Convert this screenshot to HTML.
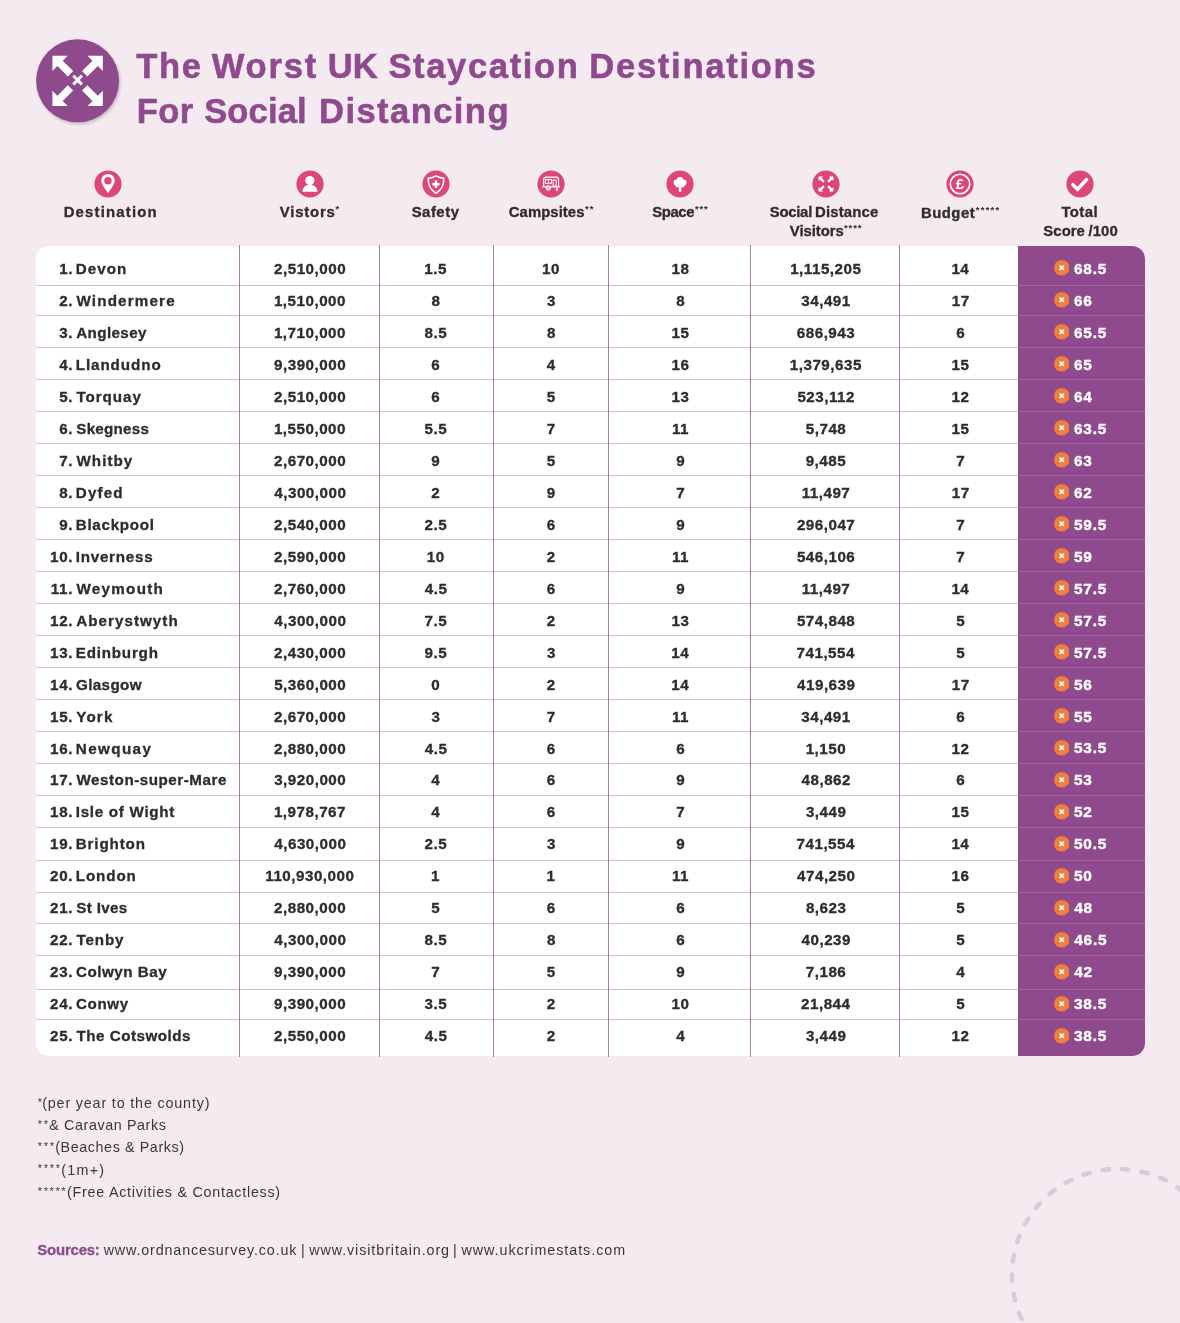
<!DOCTYPE html>
<html lang="en"><head><meta charset="utf-8"><title>The Worst UK Staycation Destinations For Social Distancing</title>
<style>
html,body{margin:0;padding:0}
body{width:1180px;height:1323px;background:#f5eaf0;position:relative;overflow:hidden;font-family:"Liberation Sans",sans-serif;color:#2f2b2e}
.abs{position:absolute}
.t{position:absolute;white-space:pre;line-height:20px;height:20px}
.b{font-weight:bold}
.tbl{position:absolute;left:36px;top:246px;width:1109px;height:810px;background:#fff;border-radius:13px;overflow:hidden}
.purple{position:absolute;left:982px;top:0;width:127px;height:810px;background:#8e4a8c}
.hl{position:absolute;left:0;width:982px;height:1px;background:#d6bfca}
.hlp{position:absolute;left:982px;width:127px;height:1px;background:#a365a1}
.vl{position:absolute;top:245px;width:1px;height:812px;background:#a97e93}
.x{position:absolute;left:1053.6px;width:15.6px;height:15.6px}
.ic{position:absolute;width:28px;height:28px}
</style></head><body>

<svg class="abs" style="left:980px;top:1140px" width="200" height="183" viewBox="980 1140 200 183"><circle cx="1118" cy="1275" r="106" fill="none" stroke="#dccadb" stroke-width="4.6" stroke-dasharray="6.400 13.190" stroke-dashoffset="6.200" stroke-linecap="round"/></svg>
<svg class="abs" style="left:26px;top:30px" width="104" height="104" viewBox="0 0 104 104">
<defs><filter id="sh" x="-20%" y="-20%" width="140%" height="140%"><feGaussianBlur stdDeviation="1.6"/></filter></defs>
<circle cx="52.9" cy="52.85" r="41.5" fill="#a58fa3" opacity=".55" filter="url(#sh)"/>
<circle cx="51.6" cy="50.85" r="41.5" fill="#8e4a8c"/>
<g fill="#fff"><polygon points="26.40,25.65 41.70,25.65 36.70,30.65 47.15,41.10 41.85,46.40 31.40,35.95 26.40,40.95"/><polygon points="76.80,25.65 61.50,25.65 66.50,30.65 56.05,41.10 61.35,46.40 71.80,35.95 76.80,40.95"/><polygon points="26.40,76.05 41.70,76.05 36.70,71.05 47.15,60.60 41.85,55.30 31.40,65.75 26.40,60.75"/><polygon points="76.80,76.05 61.50,76.05 66.50,71.05 56.05,60.60 61.35,55.30 71.80,65.75 76.80,60.75"/></g>
<path d="M47.30 45.75l8.600 8.600M55.90 45.75l-8.600 8.600" stroke="#fff" stroke-width="3" fill="none"/>
</svg>
<svg class="ic" style="left:94.25px;top:170.20px" viewBox="0 0 28 28"><circle cx="14" cy="14" r="13.6" fill="#dc4679"/><path d="M14 3.900a6.700 6.700 0 0 1 6.700 6.700c0 4.200-4.600 9.200-6.700 12.700c-2.100-3.500-6.700-8.500-6.700-12.700a6.700 6.700 0 0 1 6.700-6.700z" fill="#fff"/><circle cx="13.900" cy="10.700" r="3.700" fill="#dc4679"/></svg>
<svg class="ic" style="left:295.60px;top:169.95px" viewBox="0 0 28 28"><circle cx="14" cy="14" r="13.6" fill="#dc4679"/><circle cx="13.900" cy="10.500" r="4.600" fill="#fff"/><path d="M6.300 21.700c.4-4.600 3.300-7 7.600-7s7.200 2.400 7.600 7z" fill="#fff"/></svg>
<svg class="ic" style="left:421.60px;top:169.75px" viewBox="0 0 28 28"><circle cx="14" cy="14" r="13.6" fill="#dc4679"/><path d="M14 5.900c-2.500 1.500-5.200 2.100-7.750 2.200c-.3 6 1.800 11.500 7.750 15.100c5.950-3.600 8.050-9.100 7.750-15.100c-2.550-.1-5.250-.7-7.750-2.200z" fill="none" stroke="#fff" stroke-width="1.600" stroke-linejoin="round"/><path d="M13.900 10.600v7.300M10.300 14.250h7.200" stroke="#fff" stroke-width="2.400"/></svg>
<svg class="ic" style="left:537.00px;top:169.90px" viewBox="0 0 28 28"><circle cx="14" cy="14" r="13.6" fill="#dc4679"/><path d="M6.700 16.300v-6.800a2.400 2.400 0 0 1 2.400-2.400h10.100a2.400 2.400 0 0 1 2.400 2.400v6.800" fill="none" stroke="#fff" stroke-width="1.100"/><rect x="8.400" y="9.500" width="6.100" height="3.800" fill="none" stroke="#fff" stroke-width="1"/><path d="M11.450 9.500v3.800" stroke="#fff" stroke-width=".8"/><rect x="16.100" y="10" width="3.100" height="6" fill="none" stroke="#fff" stroke-width="1"/><path d="M5.200 16.800h17.800" stroke="#fff" stroke-width="1.300"/><circle cx="11.300" cy="17.900" r="2.300" fill="#f3c6d6" stroke="#fff" stroke-width=".9"/><path d="M19.900 17.400v3.600" stroke="#fff" stroke-width="1.700"/></svg>
<svg class="ic" style="left:665.85px;top:169.75px" viewBox="0 0 28 28"><circle cx="14" cy="14" r="13.6" fill="#dc4679"/><g fill="#fff"><circle cx="14.050" cy="10.200" r="3.300"/><circle cx="10.700" cy="12.500" r="3.100"/><circle cx="17.400" cy="12.500" r="3.100"/><circle cx="12" cy="14.700" r="2.600"/><circle cx="16.100" cy="14.700" r="2.600"/><circle cx="14.050" cy="12.600" r="3.500"/><path d="M12.300 16.300h3.500l-.5 1.500v3.900h-2.500v-3.900z"/></g></svg>
<svg class="ic" style="left:811.60px;top:169.80px" viewBox="0 0 28 28"><circle cx="14" cy="14" r="13.6" fill="#dc4679"/><g fill="#fff"><polygon points="6.57,6.57 11.08,6.57 9.60,8.04 12.69,11.12 11.12,12.69 8.04,9.60 6.57,11.08"/><polygon points="21.43,6.57 16.92,6.57 18.40,8.04 15.31,11.12 16.88,12.69 19.96,9.60 21.43,11.08"/><polygon points="6.57,21.43 11.08,21.43 9.60,19.96 12.69,16.88 11.12,15.31 8.04,18.40 6.57,16.92"/><polygon points="21.43,21.43 16.92,21.43 18.40,19.96 15.31,16.88 16.88,15.31 19.96,18.40 21.43,16.92"/></g></svg>
<svg class="ic" style="left:946.35px;top:169.65px" viewBox="0 0 28 28"><circle cx="14" cy="14" r="13.6" fill="#dc4679"/><circle cx="14" cy="14" r="9.700" fill="none" stroke="#fff" stroke-width="1.600"/><text x="14" y="19.300" text-anchor="middle" font-family="Liberation Sans,sans-serif" font-weight="bold" font-size="15" fill="#fff">£</text></svg>
<svg class="ic" style="left:1066.10px;top:169.85px" viewBox="0 0 28 28"><circle cx="14" cy="14" r="13.6" fill="#dc4679"/><path d="M6.900 14.700l4.700 4.500l9-9.700" fill="none" stroke="#fff" stroke-width="3.500" stroke-linecap="round" stroke-linejoin="miter"/></svg>
<div class="tbl"><div class="purple"></div>
<div class="hl" style="top:39px"></div><div class="hlp" style="top:39px"></div>
<div class="hl" style="top:69px"></div><div class="hlp" style="top:69px"></div>
<div class="hl" style="top:101px"></div><div class="hlp" style="top:101px"></div>
<div class="hl" style="top:133px"></div><div class="hlp" style="top:133px"></div>
<div class="hl" style="top:165px"></div><div class="hlp" style="top:165px"></div>
<div class="hl" style="top:197px"></div><div class="hlp" style="top:197px"></div>
<div class="hl" style="top:229px"></div><div class="hlp" style="top:229px"></div>
<div class="hl" style="top:261px"></div><div class="hlp" style="top:261px"></div>
<div class="hl" style="top:293px"></div><div class="hlp" style="top:293px"></div>
<div class="hl" style="top:325px"></div><div class="hlp" style="top:325px"></div>
<div class="hl" style="top:357px"></div><div class="hlp" style="top:357px"></div>
<div class="hl" style="top:389px"></div><div class="hlp" style="top:389px"></div>
<div class="hl" style="top:421px"></div><div class="hlp" style="top:421px"></div>
<div class="hl" style="top:453px"></div><div class="hlp" style="top:453px"></div>
<div class="hl" style="top:485px"></div><div class="hlp" style="top:485px"></div>
<div class="hl" style="top:517px"></div><div class="hlp" style="top:517px"></div>
<div class="hl" style="top:549px"></div><div class="hlp" style="top:549px"></div>
<div class="hl" style="top:581px"></div><div class="hlp" style="top:581px"></div>
<div class="hl" style="top:614px"></div><div class="hlp" style="top:614px"></div>
<div class="hl" style="top:646px"></div><div class="hlp" style="top:646px"></div>
<div class="hl" style="top:677px"></div><div class="hlp" style="top:677px"></div>
<div class="hl" style="top:709px"></div><div class="hlp" style="top:709px"></div>
<div class="hl" style="top:743px"></div><div class="hlp" style="top:743px"></div>
<div class="hl" style="top:773px"></div><div class="hlp" style="top:773px"></div>
</div>
<div class="vl" style="left:239px"></div>
<div class="vl" style="left:379px"></div>
<div class="vl" style="left:493px"></div>
<div class="vl" style="left:608px"></div>
<div class="vl" style="left:750px"></div>
<div class="vl" style="left:899px"></div>
<svg class="x" style="top:260.0px" viewBox="0 0 15.600 15.600"><circle cx="7.800" cy="7.800" r="7.800" fill="#ef7f3b"/><path d="M5.600 5.500l4.400 4.400M10 5.500l-4.400 4.400" stroke="#fff" stroke-width="1.700"/></svg>
<svg class="x" style="top:292.0px" viewBox="0 0 15.600 15.600"><circle cx="7.800" cy="7.800" r="7.800" fill="#ef7f3b"/><path d="M5.600 5.500l4.400 4.400M10 5.500l-4.400 4.400" stroke="#fff" stroke-width="1.700"/></svg>
<svg class="x" style="top:324.0px" viewBox="0 0 15.600 15.600"><circle cx="7.800" cy="7.800" r="7.800" fill="#ef7f3b"/><path d="M5.600 5.500l4.400 4.400M10 5.500l-4.400 4.400" stroke="#fff" stroke-width="1.700"/></svg>
<svg class="x" style="top:356.0px" viewBox="0 0 15.600 15.600"><circle cx="7.800" cy="7.800" r="7.800" fill="#ef7f3b"/><path d="M5.600 5.500l4.400 4.400M10 5.500l-4.400 4.400" stroke="#fff" stroke-width="1.700"/></svg>
<svg class="x" style="top:388.0px" viewBox="0 0 15.600 15.600"><circle cx="7.800" cy="7.800" r="7.800" fill="#ef7f3b"/><path d="M5.600 5.500l4.400 4.400M10 5.500l-4.400 4.400" stroke="#fff" stroke-width="1.700"/></svg>
<svg class="x" style="top:420.0px" viewBox="0 0 15.600 15.600"><circle cx="7.800" cy="7.800" r="7.800" fill="#ef7f3b"/><path d="M5.600 5.500l4.400 4.400M10 5.500l-4.400 4.400" stroke="#fff" stroke-width="1.700"/></svg>
<svg class="x" style="top:452.0px" viewBox="0 0 15.600 15.600"><circle cx="7.800" cy="7.800" r="7.800" fill="#ef7f3b"/><path d="M5.600 5.500l4.400 4.400M10 5.500l-4.400 4.400" stroke="#fff" stroke-width="1.700"/></svg>
<svg class="x" style="top:484.0px" viewBox="0 0 15.600 15.600"><circle cx="7.800" cy="7.800" r="7.800" fill="#ef7f3b"/><path d="M5.600 5.500l4.400 4.400M10 5.500l-4.400 4.400" stroke="#fff" stroke-width="1.700"/></svg>
<svg class="x" style="top:516.0px" viewBox="0 0 15.600 15.600"><circle cx="7.800" cy="7.800" r="7.800" fill="#ef7f3b"/><path d="M5.600 5.500l4.400 4.400M10 5.500l-4.400 4.400" stroke="#fff" stroke-width="1.700"/></svg>
<svg class="x" style="top:548.0px" viewBox="0 0 15.600 15.600"><circle cx="7.800" cy="7.800" r="7.800" fill="#ef7f3b"/><path d="M5.600 5.500l4.400 4.400M10 5.500l-4.400 4.400" stroke="#fff" stroke-width="1.700"/></svg>
<svg class="x" style="top:580.0px" viewBox="0 0 15.600 15.600"><circle cx="7.800" cy="7.800" r="7.800" fill="#ef7f3b"/><path d="M5.600 5.500l4.400 4.400M10 5.500l-4.400 4.400" stroke="#fff" stroke-width="1.700"/></svg>
<svg class="x" style="top:612.0px" viewBox="0 0 15.600 15.600"><circle cx="7.800" cy="7.800" r="7.800" fill="#ef7f3b"/><path d="M5.600 5.500l4.400 4.400M10 5.500l-4.400 4.400" stroke="#fff" stroke-width="1.700"/></svg>
<svg class="x" style="top:644.0px" viewBox="0 0 15.600 15.600"><circle cx="7.800" cy="7.800" r="7.800" fill="#ef7f3b"/><path d="M5.600 5.500l4.400 4.400M10 5.500l-4.400 4.400" stroke="#fff" stroke-width="1.700"/></svg>
<svg class="x" style="top:676.0px" viewBox="0 0 15.600 15.600"><circle cx="7.800" cy="7.800" r="7.800" fill="#ef7f3b"/><path d="M5.600 5.500l4.400 4.400M10 5.500l-4.400 4.400" stroke="#fff" stroke-width="1.700"/></svg>
<svg class="x" style="top:708.0px" viewBox="0 0 15.600 15.600"><circle cx="7.800" cy="7.800" r="7.800" fill="#ef7f3b"/><path d="M5.600 5.500l4.400 4.400M10 5.500l-4.400 4.400" stroke="#fff" stroke-width="1.700"/></svg>
<svg class="x" style="top:740.0px" viewBox="0 0 15.600 15.600"><circle cx="7.800" cy="7.800" r="7.800" fill="#ef7f3b"/><path d="M5.600 5.500l4.400 4.400M10 5.500l-4.400 4.400" stroke="#fff" stroke-width="1.700"/></svg>
<svg class="x" style="top:772.0px" viewBox="0 0 15.600 15.600"><circle cx="7.800" cy="7.800" r="7.800" fill="#ef7f3b"/><path d="M5.600 5.500l4.400 4.400M10 5.500l-4.400 4.400" stroke="#fff" stroke-width="1.700"/></svg>
<svg class="x" style="top:804.0px" viewBox="0 0 15.600 15.600"><circle cx="7.800" cy="7.800" r="7.800" fill="#ef7f3b"/><path d="M5.600 5.500l4.400 4.400M10 5.500l-4.400 4.400" stroke="#fff" stroke-width="1.700"/></svg>
<svg class="x" style="top:836.0px" viewBox="0 0 15.600 15.600"><circle cx="7.800" cy="7.800" r="7.800" fill="#ef7f3b"/><path d="M5.600 5.500l4.400 4.400M10 5.500l-4.400 4.400" stroke="#fff" stroke-width="1.700"/></svg>
<svg class="x" style="top:868.0px" viewBox="0 0 15.600 15.600"><circle cx="7.800" cy="7.800" r="7.800" fill="#ef7f3b"/><path d="M5.600 5.500l4.400 4.400M10 5.500l-4.400 4.400" stroke="#fff" stroke-width="1.700"/></svg>
<svg class="x" style="top:900.0px" viewBox="0 0 15.600 15.600"><circle cx="7.800" cy="7.800" r="7.800" fill="#ef7f3b"/><path d="M5.600 5.500l4.400 4.400M10 5.500l-4.400 4.400" stroke="#fff" stroke-width="1.700"/></svg>
<svg class="x" style="top:932.0px" viewBox="0 0 15.600 15.600"><circle cx="7.800" cy="7.800" r="7.800" fill="#ef7f3b"/><path d="M5.600 5.500l4.400 4.400M10 5.500l-4.400 4.400" stroke="#fff" stroke-width="1.700"/></svg>
<svg class="x" style="top:964.0px" viewBox="0 0 15.600 15.600"><circle cx="7.800" cy="7.800" r="7.800" fill="#ef7f3b"/><path d="M5.600 5.500l4.400 4.400M10 5.500l-4.400 4.400" stroke="#fff" stroke-width="1.700"/></svg>
<svg class="x" style="top:996.0px" viewBox="0 0 15.600 15.600"><circle cx="7.800" cy="7.800" r="7.800" fill="#ef7f3b"/><path d="M5.600 5.500l4.400 4.400M10 5.500l-4.400 4.400" stroke="#fff" stroke-width="1.700"/></svg>
<svg class="x" style="top:1028.0px" viewBox="0 0 15.600 15.600"><circle cx="7.800" cy="7.800" r="7.800" fill="#ef7f3b"/><path d="M5.600 5.500l4.400 4.400M10 5.500l-4.400 4.400" stroke="#fff" stroke-width="1.700"/></svg>
<span class="t b" style="left:136.20px;top:55.51px;font-size:34.6px;color:#8f4a8d;letter-spacing:1.600px;-webkit-text-stroke:0.55px #8f4a8d">The</span>
<span class="t b" style="left:211.65px;top:55.51px;font-size:34.6px;color:#8f4a8d;letter-spacing:1.850px;-webkit-text-stroke:0.55px #8f4a8d">Worst</span>
<span class="t b" style="left:327.85px;top:55.51px;font-size:34.6px;color:#8f4a8d;letter-spacing:-0.050px;-webkit-text-stroke:0.55px #8f4a8d">UK</span>
<span class="t b" style="left:388.45px;top:55.51px;font-size:34.6px;color:#8f4a8d;letter-spacing:1.617px;-webkit-text-stroke:0.55px #8f4a8d">Staycation</span>
<span class="t b" style="left:589.30px;top:55.51px;font-size:34.6px;color:#8f4a8d;letter-spacing:1.714px;-webkit-text-stroke:0.55px #8f4a8d">Destinations</span>
<span class="t b" style="left:136.70px;top:100.91px;font-size:34.6px;color:#8f4a8d;letter-spacing:0.400px;-webkit-text-stroke:0.55px #8f4a8d">For</span>
<span class="t b" style="left:204.15px;top:100.91px;font-size:34.6px;color:#8f4a8d;letter-spacing:0.140px;-webkit-text-stroke:0.55px #8f4a8d">Social</span>
<span class="t b" style="left:319.00px;top:100.91px;font-size:34.6px;color:#8f4a8d;letter-spacing:1.417px;-webkit-text-stroke:0.55px #8f4a8d">Distancing</span>
<span class="t b" style="left:63.65px;top:202.34px;font-size:14.9px;color:#2f2b2e;letter-spacing:1.200px;-webkit-text-stroke:0.3px #2f2b2e">Destination</span>
<span class="t b" style="left:279.70px;top:202.34px;font-size:14.9px;color:#2f2b2e;letter-spacing:0.825px;-webkit-text-stroke:0.3px #2f2b2e">Vistors</span>
<span class="t b" style="left:411.65px;top:202.34px;font-size:14.9px;color:#2f2b2e;letter-spacing:0.520px;-webkit-text-stroke:0.3px #2f2b2e">Safety</span>
<span class="t b" style="left:508.80px;top:202.34px;font-size:14.9px;color:#2f2b2e;letter-spacing:0.044px;-webkit-text-stroke:0.3px #2f2b2e">Campsites</span>
<span class="t b" style="left:652.25px;top:202.34px;font-size:14.9px;color:#2f2b2e;letter-spacing:-0.412px;-webkit-text-stroke:0.3px #2f2b2e">Space</span>
<span class="t b" style="left:769.75px;top:202.34px;font-size:14.9px;color:#2f2b2e;letter-spacing:-0.270px;-webkit-text-stroke:0.3px #2f2b2e">Social</span>
<span class="t b" style="left:815.05px;top:202.34px;font-size:14.9px;color:#2f2b2e;letter-spacing:0.171px;-webkit-text-stroke:0.3px #2f2b2e">Distance</span>
<span class="t b" style="left:789.80px;top:221.14px;font-size:14.9px;color:#2f2b2e;letter-spacing:-0.050px;-webkit-text-stroke:0.3px #2f2b2e">Visitors</span>
<span class="t b" style="left:921.05px;top:202.94px;font-size:14.9px;color:#2f2b2e;letter-spacing:0.460px;-webkit-text-stroke:0.3px #2f2b2e">Budget</span>
<span class="t b" style="left:1061.40px;top:202.04px;font-size:14.9px;color:#2f2b2e;letter-spacing:0.425px;-webkit-text-stroke:0.3px #2f2b2e">Total</span>
<span class="t b" style="left:1043.35px;top:221.04px;font-size:14.9px;color:#2f2b2e;letter-spacing:0.038px;-webkit-text-stroke:0.3px #2f2b2e">Score</span>
<span class="t b" style="left:1088.50px;top:221.04px;font-size:14.9px;color:#2f2b2e;letter-spacing:0.067px;-webkit-text-stroke:0.3px #2f2b2e">/100</span>
<span class="t b" style="left:335.60px;top:199.21px;font-size:9.5px;color:#2f2b2e">*</span>
<span class="t b" style="left:585.00px;top:199.21px;font-size:9.5px;color:#2f2b2e;letter-spacing:0.950px">**</span>
<span class="t b" style="left:695.00px;top:199.21px;font-size:9.5px;color:#2f2b2e;letter-spacing:0.800px">***</span>
<span class="t b" style="left:844.00px;top:218.01px;font-size:9.5px;color:#2f2b2e;letter-spacing:0.917px">****</span>
<span class="t b" style="left:975.80px;top:199.71px;font-size:9.5px;color:#2f2b2e;letter-spacing:1.225px">*****</span>
<span class="t b" style="left:59.20px;top:259.13px;font-size:15.2px;color:#2f2b2e;letter-spacing:0.650px;-webkit-text-stroke:0.3px #2f2b2e">1.</span>
<span class="t b" style="left:75.75px;top:259.13px;font-size:15.2px;color:#2f2b2e;letter-spacing:1.038px;-webkit-text-stroke:0.3px #2f2b2e">Devon</span>
<span class="t b" style="left:274.05px;top:259.13px;font-size:15.2px;color:#2f2b2e;letter-spacing:0.500px;-webkit-text-stroke:0.3px #2f2b2e">2,510,000</span>
<span class="t b" style="left:424.35px;top:259.13px;font-size:15.2px;color:#2f2b2e;letter-spacing:0.500px;-webkit-text-stroke:0.3px #2f2b2e">1.5</span>
<span class="t b" style="left:542.12px;top:259.13px;font-size:15.2px;color:#2f2b2e;letter-spacing:0.500px;-webkit-text-stroke:0.3px #2f2b2e">10</span>
<span class="t b" style="left:671.52px;top:259.13px;font-size:15.2px;color:#2f2b2e;letter-spacing:0.500px;-webkit-text-stroke:0.3px #2f2b2e">18</span>
<span class="t b" style="left:790.17px;top:259.13px;font-size:15.2px;color:#2f2b2e;letter-spacing:0.500px;-webkit-text-stroke:0.3px #2f2b2e">1,115,205</span>
<span class="t b" style="left:951.38px;top:259.13px;font-size:15.2px;color:#2f2b2e;letter-spacing:0.500px;-webkit-text-stroke:0.3px #2f2b2e">14</span>
<span class="t b" style="left:1074.05px;top:259.06px;font-size:15.4px;color:#fff;letter-spacing:0.750px;-webkit-text-stroke:0.4px #fff">68.5</span>
<span class="t b" style="left:59.20px;top:291.09px;font-size:15.2px;color:#2f2b2e;letter-spacing:0.650px;-webkit-text-stroke:0.3px #2f2b2e">2.</span>
<span class="t b" style="left:76.50px;top:291.09px;font-size:15.2px;color:#2f2b2e;letter-spacing:1.161px;-webkit-text-stroke:0.3px #2f2b2e">Windermere</span>
<span class="t b" style="left:273.93px;top:291.09px;font-size:15.2px;color:#2f2b2e;letter-spacing:0.500px;-webkit-text-stroke:0.3px #2f2b2e">1,510,000</span>
<span class="t b" style="left:431.48px;top:291.09px;font-size:15.2px;color:#2f2b2e;letter-spacing:0.500px;-webkit-text-stroke:0.3px #2f2b2e">8</span>
<span class="t b" style="left:546.88px;top:291.09px;font-size:15.2px;color:#2f2b2e;letter-spacing:0.500px;-webkit-text-stroke:0.3px #2f2b2e">3</span>
<span class="t b" style="left:676.27px;top:291.09px;font-size:15.2px;color:#2f2b2e;letter-spacing:0.500px;-webkit-text-stroke:0.3px #2f2b2e">8</span>
<span class="t b" style="left:801.30px;top:291.09px;font-size:15.2px;color:#2f2b2e;letter-spacing:0.500px;-webkit-text-stroke:0.3px #2f2b2e">34,491</span>
<span class="t b" style="left:951.75px;top:291.09px;font-size:15.2px;color:#2f2b2e;letter-spacing:0.500px;-webkit-text-stroke:0.3px #2f2b2e">17</span>
<span class="t b" style="left:1074.05px;top:291.02px;font-size:15.4px;color:#fff;letter-spacing:0.750px;-webkit-text-stroke:0.4px #fff">66</span>
<span class="t b" style="left:59.20px;top:323.05px;font-size:15.2px;color:#2f2b2e;letter-spacing:0.650px;-webkit-text-stroke:0.3px #2f2b2e">3.</span>
<span class="t b" style="left:76.25px;top:323.05px;font-size:15.2px;color:#2f2b2e;letter-spacing:0.379px;-webkit-text-stroke:0.3px #2f2b2e">Anglesey</span>
<span class="t b" style="left:273.93px;top:323.05px;font-size:15.2px;color:#2f2b2e;letter-spacing:0.500px;-webkit-text-stroke:0.3px #2f2b2e">1,710,000</span>
<span class="t b" style="left:424.60px;top:323.05px;font-size:15.2px;color:#2f2b2e;letter-spacing:0.500px;-webkit-text-stroke:0.3px #2f2b2e">8.5</span>
<span class="t b" style="left:546.88px;top:323.05px;font-size:15.2px;color:#2f2b2e;letter-spacing:0.500px;-webkit-text-stroke:0.3px #2f2b2e">8</span>
<span class="t b" style="left:671.52px;top:323.05px;font-size:15.2px;color:#2f2b2e;letter-spacing:0.500px;-webkit-text-stroke:0.3px #2f2b2e">15</span>
<span class="t b" style="left:796.80px;top:323.05px;font-size:15.2px;color:#2f2b2e;letter-spacing:0.500px;-webkit-text-stroke:0.3px #2f2b2e">686,943</span>
<span class="t b" style="left:956.25px;top:323.05px;font-size:15.2px;color:#2f2b2e;letter-spacing:0.500px;-webkit-text-stroke:0.3px #2f2b2e">6</span>
<span class="t b" style="left:1074.05px;top:322.98px;font-size:15.4px;color:#fff;letter-spacing:0.750px;-webkit-text-stroke:0.4px #fff">65.5</span>
<span class="t b" style="left:59.20px;top:355.01px;font-size:15.2px;color:#2f2b2e;letter-spacing:0.650px;-webkit-text-stroke:0.3px #2f2b2e">4.</span>
<span class="t b" style="left:75.75px;top:355.01px;font-size:15.2px;color:#2f2b2e;letter-spacing:0.913px;-webkit-text-stroke:0.3px #2f2b2e">Llandudno</span>
<span class="t b" style="left:274.05px;top:355.01px;font-size:15.2px;color:#2f2b2e;letter-spacing:0.500px;-webkit-text-stroke:0.3px #2f2b2e">9,390,000</span>
<span class="t b" style="left:431.35px;top:355.01px;font-size:15.2px;color:#2f2b2e;letter-spacing:0.500px;-webkit-text-stroke:0.3px #2f2b2e">6</span>
<span class="t b" style="left:546.75px;top:355.01px;font-size:15.2px;color:#2f2b2e;letter-spacing:0.500px;-webkit-text-stroke:0.3px #2f2b2e">4</span>
<span class="t b" style="left:671.52px;top:355.01px;font-size:15.2px;color:#2f2b2e;letter-spacing:0.500px;-webkit-text-stroke:0.3px #2f2b2e">16</span>
<span class="t b" style="left:789.80px;top:355.01px;font-size:15.2px;color:#2f2b2e;letter-spacing:0.500px;-webkit-text-stroke:0.3px #2f2b2e">1,379,635</span>
<span class="t b" style="left:951.62px;top:355.01px;font-size:15.2px;color:#2f2b2e;letter-spacing:0.500px;-webkit-text-stroke:0.3px #2f2b2e">15</span>
<span class="t b" style="left:1074.05px;top:354.94px;font-size:15.4px;color:#fff;letter-spacing:0.750px;-webkit-text-stroke:0.4px #fff">65</span>
<span class="t b" style="left:59.20px;top:386.97px;font-size:15.2px;color:#2f2b2e;letter-spacing:0.650px;-webkit-text-stroke:0.3px #2f2b2e">5.</span>
<span class="t b" style="left:76.50px;top:386.97px;font-size:15.2px;color:#2f2b2e;letter-spacing:0.925px;-webkit-text-stroke:0.3px #2f2b2e">Torquay</span>
<span class="t b" style="left:274.05px;top:386.97px;font-size:15.2px;color:#2f2b2e;letter-spacing:0.500px;-webkit-text-stroke:0.3px #2f2b2e">2,510,000</span>
<span class="t b" style="left:431.35px;top:386.97px;font-size:15.2px;color:#2f2b2e;letter-spacing:0.500px;-webkit-text-stroke:0.3px #2f2b2e">6</span>
<span class="t b" style="left:546.75px;top:386.97px;font-size:15.2px;color:#2f2b2e;letter-spacing:0.500px;-webkit-text-stroke:0.3px #2f2b2e">5</span>
<span class="t b" style="left:671.52px;top:386.97px;font-size:15.2px;color:#2f2b2e;letter-spacing:0.500px;-webkit-text-stroke:0.3px #2f2b2e">13</span>
<span class="t b" style="left:797.42px;top:386.97px;font-size:15.2px;color:#2f2b2e;letter-spacing:0.500px;-webkit-text-stroke:0.3px #2f2b2e">523,112</span>
<span class="t b" style="left:951.62px;top:386.97px;font-size:15.2px;color:#2f2b2e;letter-spacing:0.500px;-webkit-text-stroke:0.3px #2f2b2e">12</span>
<span class="t b" style="left:1074.05px;top:386.90px;font-size:15.4px;color:#fff;letter-spacing:0.750px;-webkit-text-stroke:0.4px #fff">64</span>
<span class="t b" style="left:59.20px;top:418.93px;font-size:15.2px;color:#2f2b2e;letter-spacing:0.650px;-webkit-text-stroke:0.3px #2f2b2e">6.</span>
<span class="t b" style="left:76.25px;top:418.93px;font-size:15.2px;color:#2f2b2e;letter-spacing:0.250px;-webkit-text-stroke:0.3px #2f2b2e">Skegness</span>
<span class="t b" style="left:273.93px;top:418.93px;font-size:15.2px;color:#2f2b2e;letter-spacing:0.500px;-webkit-text-stroke:0.3px #2f2b2e">1,550,000</span>
<span class="t b" style="left:424.60px;top:418.93px;font-size:15.2px;color:#2f2b2e;letter-spacing:0.500px;-webkit-text-stroke:0.3px #2f2b2e">5.5</span>
<span class="t b" style="left:546.75px;top:418.93px;font-size:15.2px;color:#2f2b2e;letter-spacing:0.500px;-webkit-text-stroke:0.3px #2f2b2e">7</span>
<span class="t b" style="left:671.90px;top:418.93px;font-size:15.2px;color:#2f2b2e;letter-spacing:0.500px;-webkit-text-stroke:0.3px #2f2b2e">11</span>
<span class="t b" style="left:805.80px;top:418.93px;font-size:15.2px;color:#2f2b2e;letter-spacing:0.500px;-webkit-text-stroke:0.3px #2f2b2e">5,748</span>
<span class="t b" style="left:951.62px;top:418.93px;font-size:15.2px;color:#2f2b2e;letter-spacing:0.500px;-webkit-text-stroke:0.3px #2f2b2e">15</span>
<span class="t b" style="left:1074.05px;top:418.86px;font-size:15.4px;color:#fff;letter-spacing:0.750px;-webkit-text-stroke:0.4px #fff">63.5</span>
<span class="t b" style="left:59.20px;top:450.89px;font-size:15.2px;color:#2f2b2e;letter-spacing:0.650px;-webkit-text-stroke:0.3px #2f2b2e">7.</span>
<span class="t b" style="left:76.50px;top:450.89px;font-size:15.2px;color:#2f2b2e;letter-spacing:1.030px;-webkit-text-stroke:0.3px #2f2b2e">Whitby</span>
<span class="t b" style="left:274.05px;top:450.89px;font-size:15.2px;color:#2f2b2e;letter-spacing:0.500px;-webkit-text-stroke:0.3px #2f2b2e">2,670,000</span>
<span class="t b" style="left:431.35px;top:450.89px;font-size:15.2px;color:#2f2b2e;letter-spacing:0.500px;-webkit-text-stroke:0.3px #2f2b2e">9</span>
<span class="t b" style="left:546.75px;top:450.89px;font-size:15.2px;color:#2f2b2e;letter-spacing:0.500px;-webkit-text-stroke:0.3px #2f2b2e">5</span>
<span class="t b" style="left:676.15px;top:450.89px;font-size:15.2px;color:#2f2b2e;letter-spacing:0.500px;-webkit-text-stroke:0.3px #2f2b2e">9</span>
<span class="t b" style="left:805.67px;top:450.89px;font-size:15.2px;color:#2f2b2e;letter-spacing:0.500px;-webkit-text-stroke:0.3px #2f2b2e">9,485</span>
<span class="t b" style="left:956.25px;top:450.89px;font-size:15.2px;color:#2f2b2e;letter-spacing:0.500px;-webkit-text-stroke:0.3px #2f2b2e">7</span>
<span class="t b" style="left:1074.05px;top:450.82px;font-size:15.4px;color:#fff;letter-spacing:0.750px;-webkit-text-stroke:0.4px #fff">63</span>
<span class="t b" style="left:59.20px;top:482.85px;font-size:15.2px;color:#2f2b2e;letter-spacing:0.650px;-webkit-text-stroke:0.3px #2f2b2e">8.</span>
<span class="t b" style="left:75.75px;top:482.85px;font-size:15.2px;color:#2f2b2e;letter-spacing:1.175px;-webkit-text-stroke:0.3px #2f2b2e">Dyfed</span>
<span class="t b" style="left:274.30px;top:482.85px;font-size:15.2px;color:#2f2b2e;letter-spacing:0.500px;-webkit-text-stroke:0.3px #2f2b2e">4,300,000</span>
<span class="t b" style="left:431.35px;top:482.85px;font-size:15.2px;color:#2f2b2e;letter-spacing:0.500px;-webkit-text-stroke:0.3px #2f2b2e">2</span>
<span class="t b" style="left:546.75px;top:482.85px;font-size:15.2px;color:#2f2b2e;letter-spacing:0.500px;-webkit-text-stroke:0.3px #2f2b2e">9</span>
<span class="t b" style="left:676.15px;top:482.85px;font-size:15.2px;color:#2f2b2e;letter-spacing:0.500px;-webkit-text-stroke:0.3px #2f2b2e">7</span>
<span class="t b" style="left:801.67px;top:482.85px;font-size:15.2px;color:#2f2b2e;letter-spacing:0.500px;-webkit-text-stroke:0.3px #2f2b2e">11,497</span>
<span class="t b" style="left:951.75px;top:482.85px;font-size:15.2px;color:#2f2b2e;letter-spacing:0.500px;-webkit-text-stroke:0.3px #2f2b2e">17</span>
<span class="t b" style="left:1074.05px;top:482.78px;font-size:15.4px;color:#fff;letter-spacing:0.750px;-webkit-text-stroke:0.4px #fff">62</span>
<span class="t b" style="left:59.20px;top:514.81px;font-size:15.2px;color:#2f2b2e;letter-spacing:0.650px;-webkit-text-stroke:0.3px #2f2b2e">9.</span>
<span class="t b" style="left:75.75px;top:514.81px;font-size:15.2px;color:#2f2b2e;letter-spacing:0.700px;-webkit-text-stroke:0.3px #2f2b2e">Blackpool</span>
<span class="t b" style="left:274.05px;top:514.81px;font-size:15.2px;color:#2f2b2e;letter-spacing:0.500px;-webkit-text-stroke:0.3px #2f2b2e">2,540,000</span>
<span class="t b" style="left:424.48px;top:514.81px;font-size:15.2px;color:#2f2b2e;letter-spacing:0.500px;-webkit-text-stroke:0.3px #2f2b2e">2.5</span>
<span class="t b" style="left:546.75px;top:514.81px;font-size:15.2px;color:#2f2b2e;letter-spacing:0.500px;-webkit-text-stroke:0.3px #2f2b2e">6</span>
<span class="t b" style="left:676.15px;top:514.81px;font-size:15.2px;color:#2f2b2e;letter-spacing:0.500px;-webkit-text-stroke:0.3px #2f2b2e">9</span>
<span class="t b" style="left:796.92px;top:514.81px;font-size:15.2px;color:#2f2b2e;letter-spacing:0.500px;-webkit-text-stroke:0.3px #2f2b2e">296,047</span>
<span class="t b" style="left:956.25px;top:514.81px;font-size:15.2px;color:#2f2b2e;letter-spacing:0.500px;-webkit-text-stroke:0.3px #2f2b2e">7</span>
<span class="t b" style="left:1074.05px;top:514.74px;font-size:15.4px;color:#fff;letter-spacing:0.750px;-webkit-text-stroke:0.4px #fff">59.5</span>
<span class="t b" style="left:50.05px;top:546.77px;font-size:15.2px;color:#2f2b2e;letter-spacing:0.650px;-webkit-text-stroke:0.3px #2f2b2e">10.</span>
<span class="t b" style="left:75.75px;top:546.77px;font-size:15.2px;color:#2f2b2e;letter-spacing:0.744px;-webkit-text-stroke:0.3px #2f2b2e">Inverness</span>
<span class="t b" style="left:274.05px;top:546.77px;font-size:15.2px;color:#2f2b2e;letter-spacing:0.500px;-webkit-text-stroke:0.3px #2f2b2e">2,590,000</span>
<span class="t b" style="left:426.73px;top:546.77px;font-size:15.2px;color:#2f2b2e;letter-spacing:0.500px;-webkit-text-stroke:0.3px #2f2b2e">10</span>
<span class="t b" style="left:546.75px;top:546.77px;font-size:15.2px;color:#2f2b2e;letter-spacing:0.500px;-webkit-text-stroke:0.3px #2f2b2e">2</span>
<span class="t b" style="left:671.90px;top:546.77px;font-size:15.2px;color:#2f2b2e;letter-spacing:0.500px;-webkit-text-stroke:0.3px #2f2b2e">11</span>
<span class="t b" style="left:796.92px;top:546.77px;font-size:15.2px;color:#2f2b2e;letter-spacing:0.500px;-webkit-text-stroke:0.3px #2f2b2e">546,106</span>
<span class="t b" style="left:956.25px;top:546.77px;font-size:15.2px;color:#2f2b2e;letter-spacing:0.500px;-webkit-text-stroke:0.3px #2f2b2e">7</span>
<span class="t b" style="left:1074.05px;top:546.70px;font-size:15.4px;color:#fff;letter-spacing:0.750px;-webkit-text-stroke:0.4px #fff">59</span>
<span class="t b" style="left:50.80px;top:578.73px;font-size:15.2px;color:#2f2b2e;letter-spacing:0.650px;-webkit-text-stroke:0.3px #2f2b2e">11.</span>
<span class="t b" style="left:76.50px;top:578.73px;font-size:15.2px;color:#2f2b2e;letter-spacing:1.286px;-webkit-text-stroke:0.3px #2f2b2e">Weymouth</span>
<span class="t b" style="left:274.05px;top:578.73px;font-size:15.2px;color:#2f2b2e;letter-spacing:0.500px;-webkit-text-stroke:0.3px #2f2b2e">2,760,000</span>
<span class="t b" style="left:424.73px;top:578.73px;font-size:15.2px;color:#2f2b2e;letter-spacing:0.500px;-webkit-text-stroke:0.3px #2f2b2e">4.5</span>
<span class="t b" style="left:546.75px;top:578.73px;font-size:15.2px;color:#2f2b2e;letter-spacing:0.500px;-webkit-text-stroke:0.3px #2f2b2e">6</span>
<span class="t b" style="left:676.15px;top:578.73px;font-size:15.2px;color:#2f2b2e;letter-spacing:0.500px;-webkit-text-stroke:0.3px #2f2b2e">9</span>
<span class="t b" style="left:801.67px;top:578.73px;font-size:15.2px;color:#2f2b2e;letter-spacing:0.500px;-webkit-text-stroke:0.3px #2f2b2e">11,497</span>
<span class="t b" style="left:951.38px;top:578.73px;font-size:15.2px;color:#2f2b2e;letter-spacing:0.500px;-webkit-text-stroke:0.3px #2f2b2e">14</span>
<span class="t b" style="left:1074.05px;top:578.66px;font-size:15.4px;color:#fff;letter-spacing:0.750px;-webkit-text-stroke:0.4px #fff">57.5</span>
<span class="t b" style="left:50.05px;top:610.69px;font-size:15.2px;color:#2f2b2e;letter-spacing:0.650px;-webkit-text-stroke:0.3px #2f2b2e">12.</span>
<span class="t b" style="left:76.25px;top:610.69px;font-size:15.2px;color:#2f2b2e;letter-spacing:1.030px;-webkit-text-stroke:0.3px #2f2b2e">Aberystwyth</span>
<span class="t b" style="left:274.30px;top:610.69px;font-size:15.2px;color:#2f2b2e;letter-spacing:0.500px;-webkit-text-stroke:0.3px #2f2b2e">4,300,000</span>
<span class="t b" style="left:424.48px;top:610.69px;font-size:15.2px;color:#2f2b2e;letter-spacing:0.500px;-webkit-text-stroke:0.3px #2f2b2e">7.5</span>
<span class="t b" style="left:546.75px;top:610.69px;font-size:15.2px;color:#2f2b2e;letter-spacing:0.500px;-webkit-text-stroke:0.3px #2f2b2e">2</span>
<span class="t b" style="left:671.52px;top:610.69px;font-size:15.2px;color:#2f2b2e;letter-spacing:0.500px;-webkit-text-stroke:0.3px #2f2b2e">13</span>
<span class="t b" style="left:796.92px;top:610.69px;font-size:15.2px;color:#2f2b2e;letter-spacing:0.500px;-webkit-text-stroke:0.3px #2f2b2e">574,848</span>
<span class="t b" style="left:956.25px;top:610.69px;font-size:15.2px;color:#2f2b2e;letter-spacing:0.500px;-webkit-text-stroke:0.3px #2f2b2e">5</span>
<span class="t b" style="left:1074.05px;top:610.62px;font-size:15.4px;color:#fff;letter-spacing:0.750px;-webkit-text-stroke:0.4px #fff">57.5</span>
<span class="t b" style="left:50.05px;top:642.65px;font-size:15.2px;color:#2f2b2e;letter-spacing:0.650px;-webkit-text-stroke:0.3px #2f2b2e">13.</span>
<span class="t b" style="left:75.75px;top:642.65px;font-size:15.2px;color:#2f2b2e;letter-spacing:0.781px;-webkit-text-stroke:0.3px #2f2b2e">Edinburgh</span>
<span class="t b" style="left:274.05px;top:642.65px;font-size:15.2px;color:#2f2b2e;letter-spacing:0.500px;-webkit-text-stroke:0.3px #2f2b2e">2,430,000</span>
<span class="t b" style="left:424.48px;top:642.65px;font-size:15.2px;color:#2f2b2e;letter-spacing:0.500px;-webkit-text-stroke:0.3px #2f2b2e">9.5</span>
<span class="t b" style="left:546.88px;top:642.65px;font-size:15.2px;color:#2f2b2e;letter-spacing:0.500px;-webkit-text-stroke:0.3px #2f2b2e">3</span>
<span class="t b" style="left:671.27px;top:642.65px;font-size:15.2px;color:#2f2b2e;letter-spacing:0.500px;-webkit-text-stroke:0.3px #2f2b2e">14</span>
<span class="t b" style="left:796.55px;top:642.65px;font-size:15.2px;color:#2f2b2e;letter-spacing:0.500px;-webkit-text-stroke:0.3px #2f2b2e">741,554</span>
<span class="t b" style="left:956.25px;top:642.65px;font-size:15.2px;color:#2f2b2e;letter-spacing:0.500px;-webkit-text-stroke:0.3px #2f2b2e">5</span>
<span class="t b" style="left:1074.05px;top:642.58px;font-size:15.4px;color:#fff;letter-spacing:0.750px;-webkit-text-stroke:0.4px #fff">57.5</span>
<span class="t b" style="left:50.05px;top:674.61px;font-size:15.2px;color:#2f2b2e;letter-spacing:0.650px;-webkit-text-stroke:0.3px #2f2b2e">14.</span>
<span class="t b" style="left:76.00px;top:674.61px;font-size:15.2px;color:#2f2b2e;letter-spacing:0.367px;-webkit-text-stroke:0.3px #2f2b2e">Glasgow</span>
<span class="t b" style="left:274.18px;top:674.61px;font-size:15.2px;color:#2f2b2e;letter-spacing:0.500px;-webkit-text-stroke:0.3px #2f2b2e">5,360,000</span>
<span class="t b" style="left:431.35px;top:674.61px;font-size:15.2px;color:#2f2b2e;letter-spacing:0.500px;-webkit-text-stroke:0.3px #2f2b2e">0</span>
<span class="t b" style="left:546.75px;top:674.61px;font-size:15.2px;color:#2f2b2e;letter-spacing:0.500px;-webkit-text-stroke:0.3px #2f2b2e">2</span>
<span class="t b" style="left:671.27px;top:674.61px;font-size:15.2px;color:#2f2b2e;letter-spacing:0.500px;-webkit-text-stroke:0.3px #2f2b2e">14</span>
<span class="t b" style="left:797.05px;top:674.61px;font-size:15.2px;color:#2f2b2e;letter-spacing:0.500px;-webkit-text-stroke:0.3px #2f2b2e">419,639</span>
<span class="t b" style="left:951.75px;top:674.61px;font-size:15.2px;color:#2f2b2e;letter-spacing:0.500px;-webkit-text-stroke:0.3px #2f2b2e">17</span>
<span class="t b" style="left:1074.05px;top:674.54px;font-size:15.4px;color:#fff;letter-spacing:0.750px;-webkit-text-stroke:0.4px #fff">56</span>
<span class="t b" style="left:50.05px;top:706.57px;font-size:15.2px;color:#2f2b2e;letter-spacing:0.650px;-webkit-text-stroke:0.3px #2f2b2e">15.</span>
<span class="t b" style="left:76.25px;top:706.57px;font-size:15.2px;color:#2f2b2e;letter-spacing:1.167px;-webkit-text-stroke:0.3px #2f2b2e">York</span>
<span class="t b" style="left:274.05px;top:706.57px;font-size:15.2px;color:#2f2b2e;letter-spacing:0.500px;-webkit-text-stroke:0.3px #2f2b2e">2,670,000</span>
<span class="t b" style="left:431.48px;top:706.57px;font-size:15.2px;color:#2f2b2e;letter-spacing:0.500px;-webkit-text-stroke:0.3px #2f2b2e">3</span>
<span class="t b" style="left:546.75px;top:706.57px;font-size:15.2px;color:#2f2b2e;letter-spacing:0.500px;-webkit-text-stroke:0.3px #2f2b2e">7</span>
<span class="t b" style="left:671.90px;top:706.57px;font-size:15.2px;color:#2f2b2e;letter-spacing:0.500px;-webkit-text-stroke:0.3px #2f2b2e">11</span>
<span class="t b" style="left:801.30px;top:706.57px;font-size:15.2px;color:#2f2b2e;letter-spacing:0.500px;-webkit-text-stroke:0.3px #2f2b2e">34,491</span>
<span class="t b" style="left:956.25px;top:706.57px;font-size:15.2px;color:#2f2b2e;letter-spacing:0.500px;-webkit-text-stroke:0.3px #2f2b2e">6</span>
<span class="t b" style="left:1074.05px;top:706.50px;font-size:15.4px;color:#fff;letter-spacing:0.750px;-webkit-text-stroke:0.4px #fff">55</span>
<span class="t b" style="left:50.05px;top:738.53px;font-size:15.2px;color:#2f2b2e;letter-spacing:0.650px;-webkit-text-stroke:0.3px #2f2b2e">16.</span>
<span class="t b" style="left:75.75px;top:738.53px;font-size:15.2px;color:#2f2b2e;letter-spacing:1.417px;-webkit-text-stroke:0.3px #2f2b2e">Newquay</span>
<span class="t b" style="left:274.05px;top:738.53px;font-size:15.2px;color:#2f2b2e;letter-spacing:0.500px;-webkit-text-stroke:0.3px #2f2b2e">2,880,000</span>
<span class="t b" style="left:424.73px;top:738.53px;font-size:15.2px;color:#2f2b2e;letter-spacing:0.500px;-webkit-text-stroke:0.3px #2f2b2e">4.5</span>
<span class="t b" style="left:546.75px;top:738.53px;font-size:15.2px;color:#2f2b2e;letter-spacing:0.500px;-webkit-text-stroke:0.3px #2f2b2e">6</span>
<span class="t b" style="left:676.15px;top:738.53px;font-size:15.2px;color:#2f2b2e;letter-spacing:0.500px;-webkit-text-stroke:0.3px #2f2b2e">6</span>
<span class="t b" style="left:805.67px;top:738.53px;font-size:15.2px;color:#2f2b2e;letter-spacing:0.500px;-webkit-text-stroke:0.3px #2f2b2e">1,150</span>
<span class="t b" style="left:951.62px;top:738.53px;font-size:15.2px;color:#2f2b2e;letter-spacing:0.500px;-webkit-text-stroke:0.3px #2f2b2e">12</span>
<span class="t b" style="left:1074.05px;top:738.46px;font-size:15.4px;color:#fff;letter-spacing:0.750px;-webkit-text-stroke:0.4px #fff">53.5</span>
<span class="t b" style="left:50.05px;top:770.49px;font-size:15.2px;color:#2f2b2e;letter-spacing:0.650px;-webkit-text-stroke:0.3px #2f2b2e">17.</span>
<span class="t b" style="left:76.50px;top:770.49px;font-size:15.2px;color:#2f2b2e;letter-spacing:0.522px;-webkit-text-stroke:0.3px #2f2b2e">Weston-super-Mare</span>
<span class="t b" style="left:274.18px;top:770.49px;font-size:15.2px;color:#2f2b2e;letter-spacing:0.500px;-webkit-text-stroke:0.3px #2f2b2e">3,920,000</span>
<span class="t b" style="left:431.35px;top:770.49px;font-size:15.2px;color:#2f2b2e;letter-spacing:0.500px;-webkit-text-stroke:0.3px #2f2b2e">4</span>
<span class="t b" style="left:546.75px;top:770.49px;font-size:15.2px;color:#2f2b2e;letter-spacing:0.500px;-webkit-text-stroke:0.3px #2f2b2e">6</span>
<span class="t b" style="left:676.15px;top:770.49px;font-size:15.2px;color:#2f2b2e;letter-spacing:0.500px;-webkit-text-stroke:0.3px #2f2b2e">9</span>
<span class="t b" style="left:801.55px;top:770.49px;font-size:15.2px;color:#2f2b2e;letter-spacing:0.500px;-webkit-text-stroke:0.3px #2f2b2e">48,862</span>
<span class="t b" style="left:956.25px;top:770.49px;font-size:15.2px;color:#2f2b2e;letter-spacing:0.500px;-webkit-text-stroke:0.3px #2f2b2e">6</span>
<span class="t b" style="left:1074.05px;top:770.42px;font-size:15.4px;color:#fff;letter-spacing:0.750px;-webkit-text-stroke:0.4px #fff">53</span>
<span class="t b" style="left:50.05px;top:802.45px;font-size:15.2px;color:#2f2b2e;letter-spacing:0.650px;-webkit-text-stroke:0.3px #2f2b2e">18.</span>
<span class="t b" style="left:75.75px;top:802.45px;font-size:15.2px;color:#2f2b2e;letter-spacing:0.704px;-webkit-text-stroke:0.3px #2f2b2e">Isle of Wight</span>
<span class="t b" style="left:273.93px;top:802.45px;font-size:15.2px;color:#2f2b2e;letter-spacing:0.500px;-webkit-text-stroke:0.3px #2f2b2e">1,978,767</span>
<span class="t b" style="left:431.35px;top:802.45px;font-size:15.2px;color:#2f2b2e;letter-spacing:0.500px;-webkit-text-stroke:0.3px #2f2b2e">4</span>
<span class="t b" style="left:546.75px;top:802.45px;font-size:15.2px;color:#2f2b2e;letter-spacing:0.500px;-webkit-text-stroke:0.3px #2f2b2e">6</span>
<span class="t b" style="left:676.15px;top:802.45px;font-size:15.2px;color:#2f2b2e;letter-spacing:0.500px;-webkit-text-stroke:0.3px #2f2b2e">7</span>
<span class="t b" style="left:805.92px;top:802.45px;font-size:15.2px;color:#2f2b2e;letter-spacing:0.500px;-webkit-text-stroke:0.3px #2f2b2e">3,449</span>
<span class="t b" style="left:951.62px;top:802.45px;font-size:15.2px;color:#2f2b2e;letter-spacing:0.500px;-webkit-text-stroke:0.3px #2f2b2e">15</span>
<span class="t b" style="left:1074.05px;top:802.38px;font-size:15.4px;color:#fff;letter-spacing:0.750px;-webkit-text-stroke:0.4px #fff">52</span>
<span class="t b" style="left:50.05px;top:834.41px;font-size:15.2px;color:#2f2b2e;letter-spacing:0.650px;-webkit-text-stroke:0.3px #2f2b2e">19.</span>
<span class="t b" style="left:75.75px;top:834.41px;font-size:15.2px;color:#2f2b2e;letter-spacing:0.850px;-webkit-text-stroke:0.3px #2f2b2e">Brighton</span>
<span class="t b" style="left:274.30px;top:834.41px;font-size:15.2px;color:#2f2b2e;letter-spacing:0.500px;-webkit-text-stroke:0.3px #2f2b2e">4,630,000</span>
<span class="t b" style="left:424.48px;top:834.41px;font-size:15.2px;color:#2f2b2e;letter-spacing:0.500px;-webkit-text-stroke:0.3px #2f2b2e">2.5</span>
<span class="t b" style="left:546.88px;top:834.41px;font-size:15.2px;color:#2f2b2e;letter-spacing:0.500px;-webkit-text-stroke:0.3px #2f2b2e">3</span>
<span class="t b" style="left:676.15px;top:834.41px;font-size:15.2px;color:#2f2b2e;letter-spacing:0.500px;-webkit-text-stroke:0.3px #2f2b2e">9</span>
<span class="t b" style="left:796.55px;top:834.41px;font-size:15.2px;color:#2f2b2e;letter-spacing:0.500px;-webkit-text-stroke:0.3px #2f2b2e">741,554</span>
<span class="t b" style="left:951.38px;top:834.41px;font-size:15.2px;color:#2f2b2e;letter-spacing:0.500px;-webkit-text-stroke:0.3px #2f2b2e">14</span>
<span class="t b" style="left:1074.05px;top:834.34px;font-size:15.4px;color:#fff;letter-spacing:0.750px;-webkit-text-stroke:0.4px #fff">50.5</span>
<span class="t b" style="left:50.05px;top:866.37px;font-size:15.2px;color:#2f2b2e;letter-spacing:0.650px;-webkit-text-stroke:0.3px #2f2b2e">20.</span>
<span class="t b" style="left:75.75px;top:866.37px;font-size:15.2px;color:#2f2b2e;letter-spacing:0.880px;-webkit-text-stroke:0.3px #2f2b2e">London</span>
<span class="t b" style="left:265.30px;top:866.37px;font-size:15.2px;color:#2f2b2e;letter-spacing:0.500px;-webkit-text-stroke:0.3px #2f2b2e">110,930,000</span>
<span class="t b" style="left:431.10px;top:866.37px;font-size:15.2px;color:#2f2b2e;letter-spacing:0.500px;-webkit-text-stroke:0.3px #2f2b2e">1</span>
<span class="t b" style="left:546.50px;top:866.37px;font-size:15.2px;color:#2f2b2e;letter-spacing:0.500px;-webkit-text-stroke:0.3px #2f2b2e">1</span>
<span class="t b" style="left:671.90px;top:866.37px;font-size:15.2px;color:#2f2b2e;letter-spacing:0.500px;-webkit-text-stroke:0.3px #2f2b2e">11</span>
<span class="t b" style="left:797.05px;top:866.37px;font-size:15.2px;color:#2f2b2e;letter-spacing:0.500px;-webkit-text-stroke:0.3px #2f2b2e">474,250</span>
<span class="t b" style="left:951.62px;top:866.37px;font-size:15.2px;color:#2f2b2e;letter-spacing:0.500px;-webkit-text-stroke:0.3px #2f2b2e">16</span>
<span class="t b" style="left:1074.05px;top:866.30px;font-size:15.4px;color:#fff;letter-spacing:0.750px;-webkit-text-stroke:0.4px #fff">50</span>
<span class="t b" style="left:50.05px;top:898.33px;font-size:15.2px;color:#2f2b2e;letter-spacing:0.650px;-webkit-text-stroke:0.3px #2f2b2e">21.</span>
<span class="t b" style="left:76.25px;top:898.33px;font-size:15.2px;color:#2f2b2e;letter-spacing:0.342px;-webkit-text-stroke:0.3px #2f2b2e">St Ives</span>
<span class="t b" style="left:274.05px;top:898.33px;font-size:15.2px;color:#2f2b2e;letter-spacing:0.500px;-webkit-text-stroke:0.3px #2f2b2e">2,880,000</span>
<span class="t b" style="left:431.35px;top:898.33px;font-size:15.2px;color:#2f2b2e;letter-spacing:0.500px;-webkit-text-stroke:0.3px #2f2b2e">5</span>
<span class="t b" style="left:546.75px;top:898.33px;font-size:15.2px;color:#2f2b2e;letter-spacing:0.500px;-webkit-text-stroke:0.3px #2f2b2e">6</span>
<span class="t b" style="left:676.15px;top:898.33px;font-size:15.2px;color:#2f2b2e;letter-spacing:0.500px;-webkit-text-stroke:0.3px #2f2b2e">6</span>
<span class="t b" style="left:805.92px;top:898.33px;font-size:15.2px;color:#2f2b2e;letter-spacing:0.500px;-webkit-text-stroke:0.3px #2f2b2e">8,623</span>
<span class="t b" style="left:956.25px;top:898.33px;font-size:15.2px;color:#2f2b2e;letter-spacing:0.500px;-webkit-text-stroke:0.3px #2f2b2e">5</span>
<span class="t b" style="left:1074.30px;top:898.26px;font-size:15.4px;color:#fff;letter-spacing:0.750px;-webkit-text-stroke:0.4px #fff">48</span>
<span class="t b" style="left:50.05px;top:930.29px;font-size:15.2px;color:#2f2b2e;letter-spacing:0.650px;-webkit-text-stroke:0.3px #2f2b2e">22.</span>
<span class="t b" style="left:76.50px;top:930.29px;font-size:15.2px;color:#2f2b2e;letter-spacing:0.837px;-webkit-text-stroke:0.3px #2f2b2e">Tenby</span>
<span class="t b" style="left:274.30px;top:930.29px;font-size:15.2px;color:#2f2b2e;letter-spacing:0.500px;-webkit-text-stroke:0.3px #2f2b2e">4,300,000</span>
<span class="t b" style="left:424.60px;top:930.29px;font-size:15.2px;color:#2f2b2e;letter-spacing:0.500px;-webkit-text-stroke:0.3px #2f2b2e">8.5</span>
<span class="t b" style="left:546.88px;top:930.29px;font-size:15.2px;color:#2f2b2e;letter-spacing:0.500px;-webkit-text-stroke:0.3px #2f2b2e">8</span>
<span class="t b" style="left:676.15px;top:930.29px;font-size:15.2px;color:#2f2b2e;letter-spacing:0.500px;-webkit-text-stroke:0.3px #2f2b2e">6</span>
<span class="t b" style="left:801.55px;top:930.29px;font-size:15.2px;color:#2f2b2e;letter-spacing:0.500px;-webkit-text-stroke:0.3px #2f2b2e">40,239</span>
<span class="t b" style="left:956.25px;top:930.29px;font-size:15.2px;color:#2f2b2e;letter-spacing:0.500px;-webkit-text-stroke:0.3px #2f2b2e">5</span>
<span class="t b" style="left:1074.30px;top:930.22px;font-size:15.4px;color:#fff;letter-spacing:0.750px;-webkit-text-stroke:0.4px #fff">46.5</span>
<span class="t b" style="left:50.05px;top:962.25px;font-size:15.2px;color:#2f2b2e;letter-spacing:0.650px;-webkit-text-stroke:0.3px #2f2b2e">23.</span>
<span class="t b" style="left:76.00px;top:962.25px;font-size:15.2px;color:#2f2b2e;letter-spacing:0.506px;-webkit-text-stroke:0.3px #2f2b2e">Colwyn Bay</span>
<span class="t b" style="left:274.05px;top:962.25px;font-size:15.2px;color:#2f2b2e;letter-spacing:0.500px;-webkit-text-stroke:0.3px #2f2b2e">9,390,000</span>
<span class="t b" style="left:431.35px;top:962.25px;font-size:15.2px;color:#2f2b2e;letter-spacing:0.500px;-webkit-text-stroke:0.3px #2f2b2e">7</span>
<span class="t b" style="left:546.75px;top:962.25px;font-size:15.2px;color:#2f2b2e;letter-spacing:0.500px;-webkit-text-stroke:0.3px #2f2b2e">5</span>
<span class="t b" style="left:676.15px;top:962.25px;font-size:15.2px;color:#2f2b2e;letter-spacing:0.500px;-webkit-text-stroke:0.3px #2f2b2e">9</span>
<span class="t b" style="left:805.80px;top:962.25px;font-size:15.2px;color:#2f2b2e;letter-spacing:0.500px;-webkit-text-stroke:0.3px #2f2b2e">7,186</span>
<span class="t b" style="left:956.25px;top:962.25px;font-size:15.2px;color:#2f2b2e;letter-spacing:0.500px;-webkit-text-stroke:0.3px #2f2b2e">4</span>
<span class="t b" style="left:1074.30px;top:962.18px;font-size:15.4px;color:#fff;letter-spacing:0.750px;-webkit-text-stroke:0.4px #fff">42</span>
<span class="t b" style="left:50.05px;top:994.21px;font-size:15.2px;color:#2f2b2e;letter-spacing:0.650px;-webkit-text-stroke:0.3px #2f2b2e">24.</span>
<span class="t b" style="left:76.00px;top:994.21px;font-size:15.2px;color:#2f2b2e;letter-spacing:0.587px;-webkit-text-stroke:0.3px #2f2b2e">Conwy</span>
<span class="t b" style="left:274.05px;top:994.21px;font-size:15.2px;color:#2f2b2e;letter-spacing:0.500px;-webkit-text-stroke:0.3px #2f2b2e">9,390,000</span>
<span class="t b" style="left:424.60px;top:994.21px;font-size:15.2px;color:#2f2b2e;letter-spacing:0.500px;-webkit-text-stroke:0.3px #2f2b2e">3.5</span>
<span class="t b" style="left:546.75px;top:994.21px;font-size:15.2px;color:#2f2b2e;letter-spacing:0.500px;-webkit-text-stroke:0.3px #2f2b2e">2</span>
<span class="t b" style="left:671.52px;top:994.21px;font-size:15.2px;color:#2f2b2e;letter-spacing:0.500px;-webkit-text-stroke:0.3px #2f2b2e">10</span>
<span class="t b" style="left:801.05px;top:994.21px;font-size:15.2px;color:#2f2b2e;letter-spacing:0.500px;-webkit-text-stroke:0.3px #2f2b2e">21,844</span>
<span class="t b" style="left:956.25px;top:994.21px;font-size:15.2px;color:#2f2b2e;letter-spacing:0.500px;-webkit-text-stroke:0.3px #2f2b2e">5</span>
<span class="t b" style="left:1074.05px;top:994.14px;font-size:15.4px;color:#fff;letter-spacing:0.750px;-webkit-text-stroke:0.4px #fff">38.5</span>
<span class="t b" style="left:50.05px;top:1026.17px;font-size:15.2px;color:#2f2b2e;letter-spacing:0.650px;-webkit-text-stroke:0.3px #2f2b2e">25.</span>
<span class="t b" style="left:76.50px;top:1026.17px;font-size:15.2px;color:#2f2b2e;letter-spacing:0.500px;-webkit-text-stroke:0.3px #2f2b2e">The Cotswolds</span>
<span class="t b" style="left:274.05px;top:1026.17px;font-size:15.2px;color:#2f2b2e;letter-spacing:0.500px;-webkit-text-stroke:0.3px #2f2b2e">2,550,000</span>
<span class="t b" style="left:424.73px;top:1026.17px;font-size:15.2px;color:#2f2b2e;letter-spacing:0.500px;-webkit-text-stroke:0.3px #2f2b2e">4.5</span>
<span class="t b" style="left:546.75px;top:1026.17px;font-size:15.2px;color:#2f2b2e;letter-spacing:0.500px;-webkit-text-stroke:0.3px #2f2b2e">2</span>
<span class="t b" style="left:676.15px;top:1026.17px;font-size:15.2px;color:#2f2b2e;letter-spacing:0.500px;-webkit-text-stroke:0.3px #2f2b2e">4</span>
<span class="t b" style="left:805.92px;top:1026.17px;font-size:15.2px;color:#2f2b2e;letter-spacing:0.500px;-webkit-text-stroke:0.3px #2f2b2e">3,449</span>
<span class="t b" style="left:951.62px;top:1026.17px;font-size:15.2px;color:#2f2b2e;letter-spacing:0.500px;-webkit-text-stroke:0.3px #2f2b2e">12</span>
<span class="t b" style="left:1074.05px;top:1026.10px;font-size:15.4px;color:#fff;letter-spacing:0.750px;-webkit-text-stroke:0.4px #fff">38.5</span>
<span class="t" style="left:42.20px;top:1093.45px;font-size:14.3px;color:#3b3739;letter-spacing:0.848px">(per year to the county)</span>
<span class="t" style="left:37.85px;top:1092.19px;font-size:11px;color:#3b3739">*</span>
<span class="t" style="left:49.30px;top:1115.35px;font-size:14.3px;color:#3b3739;letter-spacing:0.607px">&amp; Caravan Parks</span>
<span class="t" style="left:37.85px;top:1114.09px;font-size:11px;color:#3b3739;letter-spacing:1.750px">**</span>
<span class="t" style="left:55.20px;top:1137.45px;font-size:14.3px;color:#3b3739;letter-spacing:0.603px">(Beaches &amp; Parks)</span>
<span class="t" style="left:37.85px;top:1136.19px;font-size:11px;color:#3b3739;letter-spacing:1.675px">***</span>
<span class="t" style="left:61.30px;top:1159.55px;font-size:14.3px;color:#3b3739;letter-spacing:1.238px">(1m+)</span>
<span class="t" style="left:37.85px;top:1158.29px;font-size:11px;color:#3b3739;letter-spacing:1.650px">****</span>
<span class="t" style="left:67.10px;top:1181.95px;font-size:14.3px;color:#3b3739;letter-spacing:0.745px">(Free Activities &amp; Contactless)</span>
<span class="t" style="left:37.85px;top:1180.69px;font-size:11px;color:#3b3739;letter-spacing:1.575px">*****</span>
<span class="t b" style="left:37.35px;top:1239.74px;font-size:14.9px;color:#8f4a8d;letter-spacing:-0.179px;-webkit-text-stroke:0.3px #8f4a8d">Sources:</span>
<span class="t" style="left:103.70px;top:1239.95px;font-size:14.3px;color:#3b3739;letter-spacing:0.861px">www.ordnancesurvey.co.uk</span>
<span class="t" style="left:300.93px;top:1239.95px;font-size:14.3px;color:#3b3739">|</span>
<span class="t" style="left:309.20px;top:1239.95px;font-size:14.3px;color:#3b3739;letter-spacing:0.921px">www.visitbritain.org</span>
<span class="t" style="left:452.93px;top:1239.95px;font-size:14.3px;color:#3b3739">|</span>
<span class="t" style="left:461.50px;top:1239.95px;font-size:14.3px;color:#3b3739;letter-spacing:0.958px">www.ukcrimestats.com</span>
</body></html>
